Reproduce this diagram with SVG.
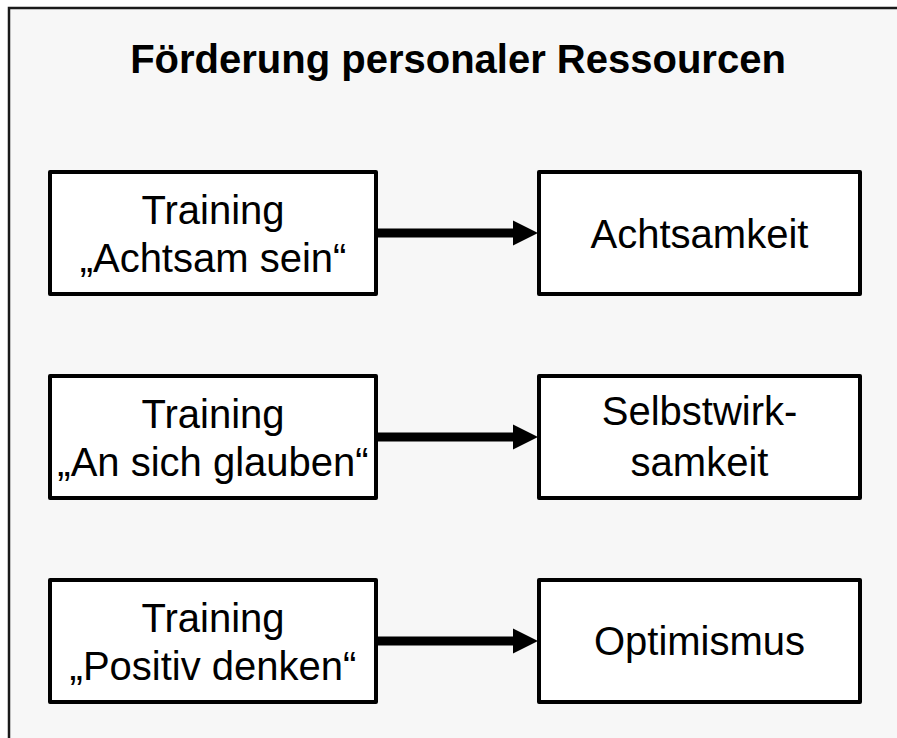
<svg xmlns="http://www.w3.org/2000/svg" width="897" height="738" viewBox="0 0 897 738">
<style>
.frame{fill:#f7f7f7;stroke:#1a1a1a;stroke-width:2.5}
.box{fill:#ffffff;stroke:#000;stroke-width:4;stroke-linejoin:round}
.t{font-family:"Liberation Sans",Arial,sans-serif;font-size:40px;fill:#000;text-anchor:middle}
.title{font-weight:bold}
.conn line{stroke:#000;stroke-width:9}
.conn polygon{fill:#000}
</style>
<rect width="897" height="738" fill="#ffffff"/>
<rect class="frame" x="9" y="8" width="900" height="745"/>
<text class="t title" x="458" y="73">Förderung personaler Ressourcen</text>

<g id="n1">
<rect class="box" x="50" y="172" width="326" height="122"/>
<text class="t" x="213" y="224">Training</text>
<text class="t" x="213" y="272">„Achtsam sein“</text>
</g>
<g id="n2">
<rect class="box" x="539" y="172" width="321" height="122"/>
<text class="t" x="699.5" y="248">Achtsamkeit</text>
</g>
<g id="n3">
<rect class="box" x="50" y="376" width="326" height="122"/>
<text class="t" x="213" y="428">Training</text>
<text class="t" x="213" y="476">„An sich glauben“</text>
</g>
<g id="n4">
<rect class="box" x="539" y="376" width="321" height="122"/>
<text class="t" x="699.5" y="425">Selbstwirk-</text>
<text class="t" x="699.5" y="476">samkeit</text>
</g>
<g id="n5">
<rect class="box" x="50" y="580" width="326" height="122"/>
<text class="t" x="213" y="632">Training</text>
<text class="t" x="213" y="680">„Positiv denken“</text>
</g>
<g id="n6">
<rect class="box" x="539" y="580" width="321" height="122"/>
<text class="t" x="699.5" y="655">Optimismus</text>
</g>

<g id="connectors" class="conn">
<line x1="378" y1="233" x2="515" y2="233"/>
<polygon points="513,220.5 538,233 513,245.5"/>
<line x1="378" y1="437" x2="515" y2="437"/>
<polygon points="513,424.5 538,437 513,449.5"/>
<line x1="378" y1="641" x2="515" y2="641"/>
<polygon points="513,628.5 538,641 513,653.5"/>
</g>
</svg>
